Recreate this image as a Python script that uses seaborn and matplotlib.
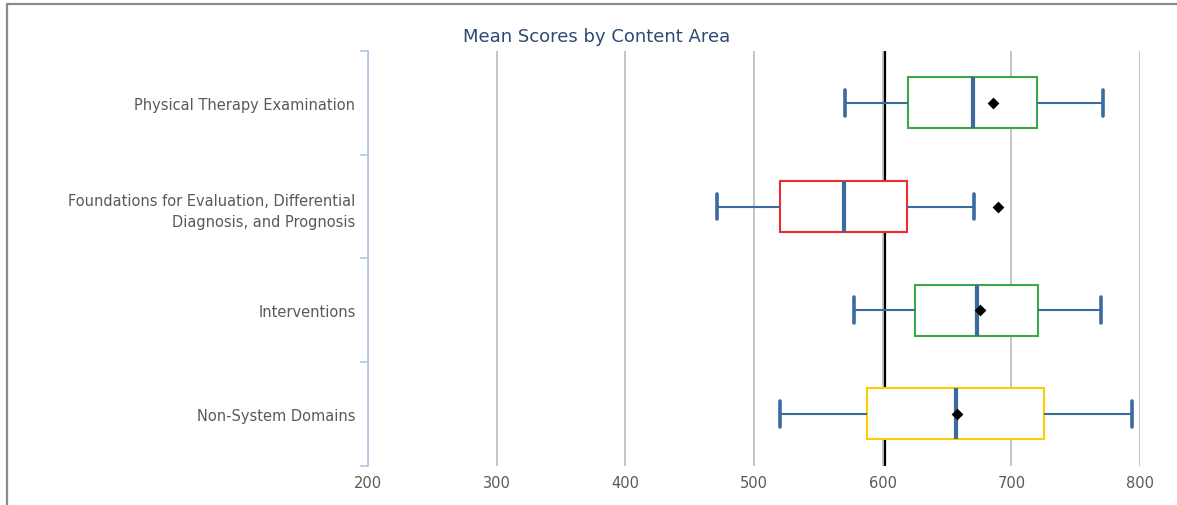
import numpy as np
import pandas as pd
import matplotlib
matplotlib.use("Agg")
import matplotlib.pyplot as plt
import seaborn as sns
from matplotlib.lines import Line2D

# ---- data ----
categories = [
    "Physical Therapy Examination",
    "Foundations for Evaluation, Differential\nDiagnosis, and Prognosis",
    "Interventions",
    "Non-System Domains",
]
whisker_low = [571, 471, 578, 520]
q1 = [620, 520, 625, 588]
median = [670, 570, 673, 657]
q3 = [720, 619, 721, 725]
whisker_high = [771, 671, 770, 794]
means = [686, 690, 676, 658]
reference_score = 602
x_ticks = [200, 300, 400, 500, 600, 700, 800]
box_colors = ["#3DA64B", "#EE2B2F", "#3DA64B", "#FFCC00"]

BLUE = "#3A6A9F"
GRAY_TXT = "#595959"

sns.set_style("white")
plt.rcParams["font.family"] = ["DejaVu Sans"]

# five-number summaries as long-form data
rows = []
for cat, lo, a, m, b, hi in zip(categories, whisker_low, q1, median, q3, whisker_high):
    for v in (lo, a, m, b, hi):
        rows.append({"area": cat, "score": v})
df = pd.DataFrame(rows)

W, H = 1177, 506
fig = plt.figure(figsize=(W / 100, H / 100), dpi=100)
ax = fig.add_axes([368 / W, (H - 466.7) / H, (1140 - 368) / W, (466.7 - 52) / H])

sns.boxplot(
    data=df, x="score", y="area", order=categories,
    whis=(0, 100), width=0.49, color="white", linecolor=BLUE,
    linewidth=1.5, showfliers=False,
    medianprops={"linewidth": 3.0, "color": BLUE},
    capprops={"linewidth": 2.6, "color": BLUE},
    whiskerprops={"linewidth": 1.5, "color": BLUE},
    ax=ax, zorder=3,
)
for patch, col in zip(ax.patches, box_colors):
    patch.set_edgecolor(col)
    patch.set_facecolor("white")
    patch.set_linewidth(1.5)

sns.scatterplot(x=means, y=np.arange(len(categories)), marker="D", color="black",
                s=36, linewidth=0, zorder=6, ax=ax)

ax.axvline(reference_score, color="black", lw=1.6, zorder=2)

ax.set_xlim(x_ticks[0], x_ticks[-1])
ax.set_ylim(len(categories) - 0.5, -0.5)
ax.set_xticks(x_ticks)
ax.set_xticklabels([str(t) for t in x_ticks])
ax.set_yticks(np.arange(len(categories)))
ax.set_yticklabels(categories, linespacing=1.5)
ax.set_yticks(np.arange(len(categories) + 1) - 0.5, minor=True)
ax.tick_params(axis="y", which="major", length=0, pad=9, labelsize=10.5, labelcolor=GRAY_TXT)
ax.tick_params(axis="y", which="minor", length=6, width=1.2, color="#B4C7E7", direction="out", left=True)
ax.tick_params(axis="x", length=0, pad=7, labelsize=10.5, labelcolor=GRAY_TXT)
ax.set_xlabel("")
ax.set_ylabel("")

ax.xaxis.grid(True, color="#C0C0C0", linewidth=1.3)
ax.yaxis.grid(False)
ax.set_axisbelow(True)
for s in ("top", "right", "bottom"):
    ax.spines[s].set_visible(False)
ax.spines["left"].set_color("#B4C7E7")
ax.spines["left"].set_linewidth(1.3)
ax.spines["left"].set_zorder(4)

fig.text(597 / W, 1 - 37 / H, "Mean Scores by Content Area", ha="center", va="center",
         fontsize=13, color="#2E4A72")

# outer frame (top and left edges)
fig.add_artist(Line2D([7 / W, 1], [1 - 5 / H, 1 - 5 / H], transform=fig.transFigure,
                      color="#8C8C8C", lw=1.6))
fig.add_artist(Line2D([7 / W, 7 / W], [0, 1 - 5 / H], transform=fig.transFigure,
                      color="#8C8C8C", lw=1.6))

fig.savefig("out.png", dpi=100)
